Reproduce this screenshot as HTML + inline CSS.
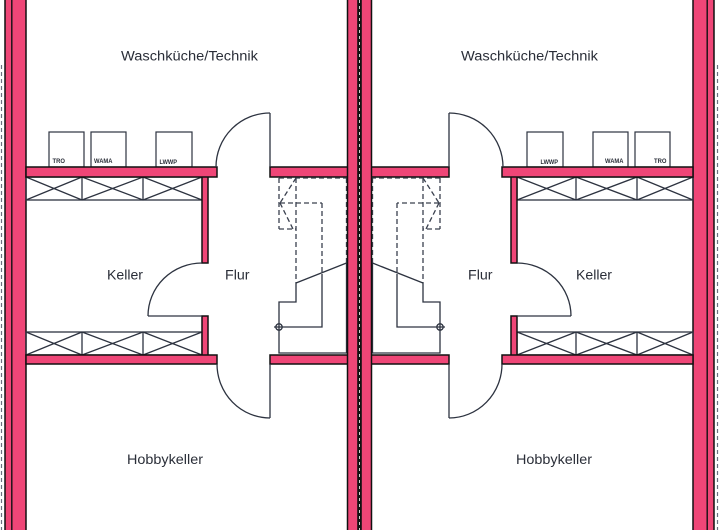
<!DOCTYPE html>
<html>
<head>
<meta charset="utf-8">
<style>
  html,body{margin:0;padding:0;background:#fff;}
  svg{display:block;}
  text{font-family:"Liberation Sans","DejaVu Sans",sans-serif;fill:#2a2e38;}
</style>
</head>
<body>
<svg width="720" height="530" viewBox="0 0 720 530" xmlns="http://www.w3.org/2000/svg">
  <defs>
    <g id="half">
      <!-- outer dashed line -->
      <line x1="1.5" y1="65" x2="1.5" y2="532" stroke="#6a7080" stroke-width="1.2" stroke-dasharray="4 3"/>
      <!-- outer wall -->
      <rect x="5" y="-2" width="21" height="534" fill="#ef4677" stroke="#111" stroke-width="1.5"/>
      <line x1="11.8" y1="-2" x2="11.8" y2="532" stroke="#111" stroke-width="1.4"/>

      <!-- shelves (upper) -->
      <g stroke="#2d3340" stroke-width="1.3" fill="none">
        <rect x="26" y="177" width="176" height="23"/>
        <line x1="82" y1="177" x2="82" y2="200"/>
        <line x1="143" y1="177" x2="143" y2="200"/>
        <line x1="26" y1="177" x2="82" y2="200"/><line x1="26" y1="200" x2="82" y2="177"/>
        <line x1="82" y1="177" x2="143" y2="200"/><line x1="82" y1="200" x2="143" y2="177"/>
        <line x1="143" y1="177" x2="202" y2="200"/><line x1="143" y1="200" x2="202" y2="177"/>
        <!-- lower -->
        <rect x="26" y="332" width="176" height="23"/>
        <line x1="82" y1="332" x2="82" y2="355"/>
        <line x1="143" y1="332" x2="143" y2="355"/>
        <line x1="26" y1="332" x2="82" y2="355"/><line x1="26" y1="355" x2="82" y2="332"/>
        <line x1="82" y1="332" x2="143" y2="355"/><line x1="82" y1="355" x2="143" y2="332"/>
        <line x1="143" y1="332" x2="202" y2="355"/><line x1="143" y1="355" x2="202" y2="332"/>
      </g>

      <!-- appliances -->
      <g stroke="#2d3340" stroke-width="1.2" fill="#fff">
        <rect x="49" y="132" width="35" height="35"/>
        <rect x="91" y="132" width="35" height="35"/>
        <rect x="156" y="132" width="36" height="35"/>
      </g>

      <!-- walls -->
      <g fill="#ef4677" stroke="#111" stroke-width="1.5">
        <rect x="202" y="176" width="6" height="87"/>
        <rect x="202" y="316" width="6" height="40"/>
        <rect x="26" y="167" width="191" height="10"/>
        <rect x="270" y="167" width="78" height="10"/>
        <rect x="26" y="355" width="191" height="9"/>
        <rect x="270" y="355" width="78" height="9"/>
      </g>

      <!-- doors -->
      <g stroke="#2d3340" stroke-width="1.3" fill="none">
        <line x1="270" y1="113" x2="270" y2="167"/>
        <path d="M270,113 A54,54 0 0 0 216,167"/>
        <line x1="270" y1="364" x2="270" y2="418"/>
        <path d="M217,364 A53,54 0 0 0 270,418"/>
        <line x1="148" y1="316" x2="202" y2="316"/>
        <path d="M202,263 A54,53 0 0 0 148,316"/>
      </g>

      <!-- stairs -->
      <g stroke="#3a404e" stroke-width="1.3" fill="none" stroke-dasharray="5 3">
        <line x1="279" y1="178" x2="347" y2="178"/>
        <line x1="279" y1="178" x2="279" y2="229"/>
        <line x1="279" y1="229" x2="296" y2="229"/>
        <line x1="296" y1="178" x2="296" y2="283"/>
        <line x1="296" y1="178" x2="280" y2="203"/>
        <line x1="280" y1="203" x2="293" y2="229"/>
        <line x1="280" y1="203" x2="322" y2="203"/>
        <line x1="322" y1="203" x2="322" y2="274"/>
        <line x1="346.5" y1="178" x2="346.5" y2="263"/>
      </g>
      <g stroke="#2d3340" stroke-width="1.3" fill="none">
        <line x1="296" y1="283" x2="346.5" y2="263"/>
        <polyline points="296,283 296,302 279,302 279,353 346.5,353 346.5,263"/>
        <polyline points="322,274 322,327 274,327"/>
        <circle cx="279" cy="327" r="3.2"/>
      </g>
    </g>
  </defs>

  <use href="#half"/>
  <use href="#half" transform="matrix(-1 0 0 1 719 0)"/>

  <!-- center wall -->
  <rect x="347.5" y="-2" width="24" height="534" fill="#ef4677" stroke="#111" stroke-width="1.5"/>
  <rect x="357.2" y="-2" width="4.6" height="534" fill="#111"/>
  <line x1="359.5" y1="0" x2="359.5" y2="530" stroke="#fff" stroke-width="0.8" stroke-dasharray="3 3"/>

  <!-- room labels left -->
  <text x="121" y="60.5" font-size="13.5" textLength="137" lengthAdjust="spacingAndGlyphs">Waschküche/Technik</text>
  <text x="107" y="279.5" font-size="13.5" textLength="36" lengthAdjust="spacingAndGlyphs">Keller</text>
  <text x="225" y="279.5" font-size="13.5" textLength="24.5" lengthAdjust="spacingAndGlyphs">Flur</text>
  <text x="127" y="464" font-size="13.5" textLength="76" lengthAdjust="spacingAndGlyphs">Hobbykeller</text>

  <!-- room labels right -->
  <text x="461" y="60.5" font-size="13.5" textLength="137" lengthAdjust="spacingAndGlyphs">Waschküche/Technik</text>
  <text x="576" y="279.5" font-size="13.5" textLength="36" lengthAdjust="spacingAndGlyphs">Keller</text>
  <text x="468" y="279.5" font-size="13.5" textLength="24.5" lengthAdjust="spacingAndGlyphs">Flur</text>
  <text x="516" y="464" font-size="13.5" textLength="76" lengthAdjust="spacingAndGlyphs">Hobbykeller</text>

  <!-- appliance labels -->
  <g font-size="6.5" font-weight="bold">
    <text x="52.5" y="163" textLength="12.5" lengthAdjust="spacingAndGlyphs">TRO</text>
    <text x="94" y="163" textLength="18.5" lengthAdjust="spacingAndGlyphs">WAMA</text>
    <text x="159.5" y="164" textLength="17.5" lengthAdjust="spacingAndGlyphs">LWWP</text>
    <text x="540.5" y="164" textLength="17.5" lengthAdjust="spacingAndGlyphs">LWWP</text>
    <text x="605" y="163" textLength="18.5" lengthAdjust="spacingAndGlyphs">WAMA</text>
    <text x="654" y="163" textLength="12.5" lengthAdjust="spacingAndGlyphs">TRO</text>
  </g>
</svg>
</body>
</html>
